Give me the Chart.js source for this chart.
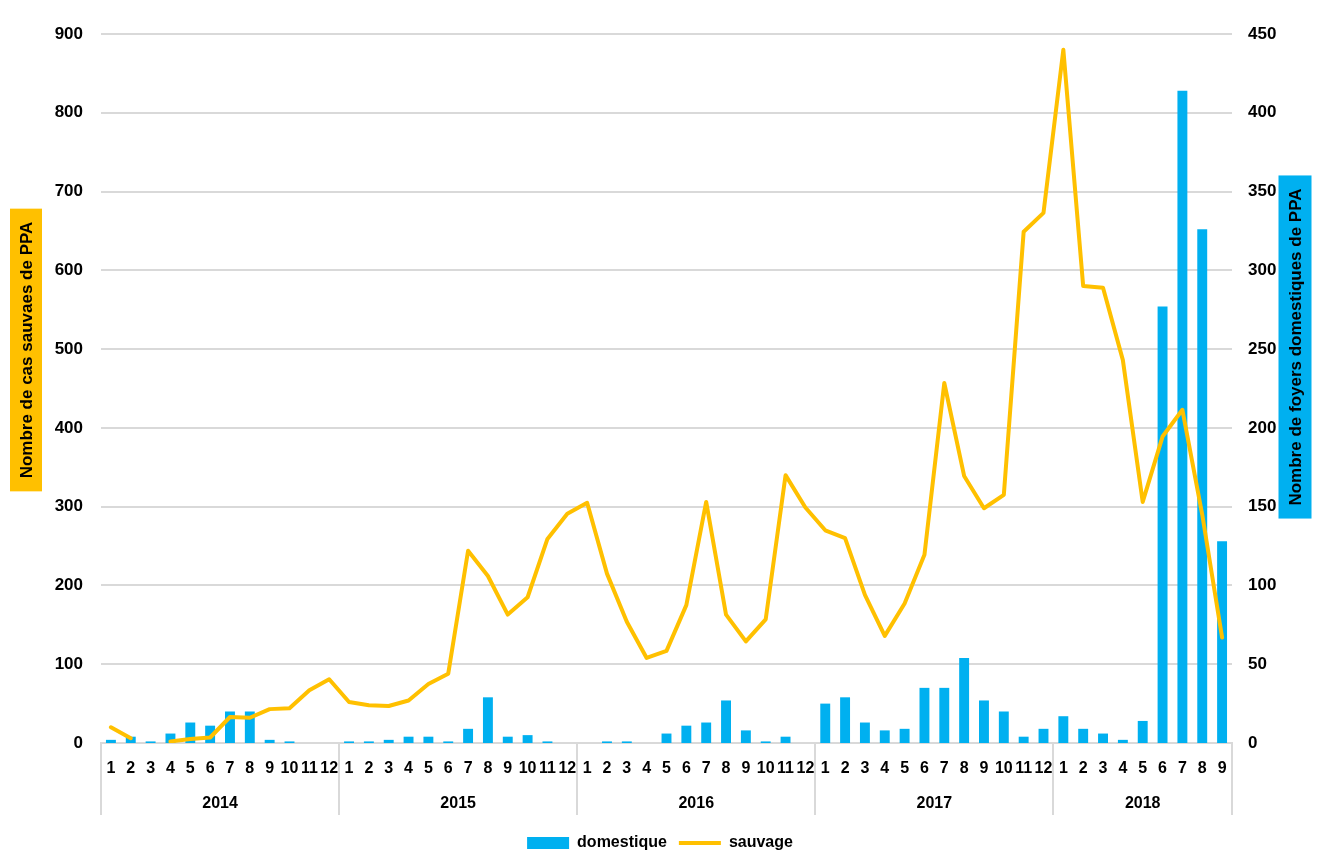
<!DOCTYPE html>
<html>
<head>
<meta charset="utf-8">
<script src="https://cdn.jsdelivr.net/npm/chart.js@4/dist/chart.umd.min.js"></script>
<style>
  html, body { margin: 0; padding: 0; background: #fff; }
  #wrap { width: 1320px; height: 865px; }
</style>
</head>
<body>
<div id="wrap"><canvas id="ppa"></canvas></div>
<script>
// months of each year, then year labels for the second row
const monthLabels = [
  '1','2','3','4','5','6','7','8','9','10','11','12',
  '1','2','3','4','5','6','7','8','9','10','11','12',
  '1','2','3','4','5','6','7','8','9','10','11','12',
  '1','2','3','4','5','6','7','8','9','10','11','12',
  '1','2','3','4','5','6','7','8','9'
];
const years = ['2014', '2015', '2016', '2017', '2018'];
const yearLengths = [12, 12, 12, 12, 9];

// domestic outbreaks (right axis)
const domestique = [
  2, 4, 1, 6, 13, 11, 20, 20, 2, 1, 0, 0,
  1, 1, 2, 4, 4, 1, 9, 29, 4, 5, 1, 0,
  0, 1, 1, 0, 6, 11, 13, 27, 8, 1, 4, 0,
  25, 29, 13, 8, 9, 35, 35, 54, 27, 20, 4, 9,
  17, 9, 6, 2, 14, 277, 414, 326, 128
];
// wild boar cases (left axis) - no value for march 2014
const sauvage = [
  20, 6, null, 2, 5, 7, 33, 32, 43, 44, 67, 81,
  52, 48, 47, 54, 75, 88, 244, 212, 163, 185, 259, 291,
  305, 215, 154, 108, 117, 175, 306, 163, 129, 157, 340, 299,
  270, 260, 188, 136, 177, 239, 457, 339, 298, 315, 649, 673,
  880, 580, 578, 486, 306, 389, 423, 290, 134
];
const leftTicks = [0, 900, 100];   // min, max, step
const rightTicks = [0, 450, 50];

const BLUE = '#00B0F0';
const GOLD = '#FFC000';
const GRID = '#D9D9D9';
const labelFont = 'Liberation Sans';
const tickFont = { family: labelFont, size: 17, weight: 'bold' };

// second row of the category axis (years) + separators
const yearAxis = {
  id: 'yearAxis',
  afterDraw(chart) {
    const { ctx, chartArea, scales } = chart;
    const x = scales.x;
    const top = chartArea.bottom, bottom = chartArea.bottom + 72;
    const edges = [chartArea.left];
    let n = 0;
    yearLengths.forEach(len => {
      n += len;
      if (n >= monthLabels.length) edges.push(chartArea.right);
      else edges.push((x.getPixelForValue(n - 1) + x.getPixelForValue(n)) / 2);
    });
    ctx.save();
    ctx.strokeStyle = GRID;
    ctx.lineWidth = 2;
    edges.forEach(px => {
      ctx.beginPath();
      ctx.moveTo(Math.round(px), top);
      ctx.lineTo(Math.round(px), bottom);
      ctx.stroke();
    });
    ctx.fillStyle = '#000';
    ctx.font = 'bold 16px ' + labelFont;
    ctx.textAlign = 'center';
    ctx.textBaseline = 'middle';
    years.forEach((y, i) => {
      ctx.fillText(y, (edges[i] + edges[i + 1]) / 2, chartArea.bottom + 61);
    });
    ctx.restore();
  }
};

// axis titles with coloured boxes
function boxTitle(ctx, text, cx, cy, boxW, bg) {
  ctx.save();
  ctx.font = 'bold 17px ' + labelFont;
  const w = ctx.measureText(text).width + 26;
  ctx.translate(cx, cy);
  ctx.rotate(-Math.PI / 2);
  ctx.fillStyle = bg;
  ctx.fillRect(-w / 2, -boxW / 2, w, boxW);
  ctx.fillStyle = '#000';
  ctx.textAlign = 'center';
  ctx.textBaseline = 'middle';
  ctx.fillText(text, 0, 1);
  ctx.restore();
}
const axisTitles = {
  id: 'axisTitles',
  afterDraw(chart) {
    const { ctx, chartArea } = chart;
    boxTitle(ctx, 'Nombre de cas sauvaes de PPA', chartArea.left - 75, chartArea.top + 316, 32, GOLD);
    boxTitle(ctx, 'Nombre de foyers domestiques de PPA', chartArea.right + 63, chartArea.top + 313, 33, BLUE);
  }
};

const ppaChart = new Chart(document.getElementById('ppa').getContext('2d'), {
  type: 'bar',
  data: {
    labels: monthLabels,
    datasets: [
      {
        type: 'bar',
        label: 'domestique',
        data: domestique,
        yAxisID: 'y1',
        backgroundColor: BLUE,
        borderWidth: 0,
        barPercentage: 0.5,
        categoryPercentage: 1,
        pointStyle: 'rect',
        order: 1
      },
      {
        type: 'line',
        label: 'sauvage',
        data: sauvage,
        yAxisID: 'y',
        borderColor: GOLD,
        backgroundColor: GOLD,
        borderWidth: 4,
        tension: 0,
        spanGaps: false,
        pointRadius: 0,
        pointStyle: 'line',
        borderJoinStyle: 'round',
        borderCapStyle: 'round',
        order: 0
      }
    ]
  },
  options: {
    responsive: true,
    maintainAspectRatio: false,
    animation: false,
    layout: { padding: { top: 34, bottom: 4 } },
    plugins: {
      tooltip: { enabled: false },
      legend: {
        position: 'bottom',
        labels: {
          usePointStyle: true,
          pointStyleWidth: 42,
          boxHeight: 12,
          padding: 12,
          color: '#000',
          font: { family: labelFont, size: 16, weight: 'bold' },
          sort: (a, b) => a.datasetIndex - b.datasetIndex
        }
      }
    },
    scales: {
      x: {
        grid: { display: false },
        border: { color: GRID, width: 2 },
        ticks: {
          autoSkip: false,
          maxRotation: 0,
          padding: 8,
          color: '#000',
          font: { family: labelFont, size: 16, weight: 'bold' }
        },
        afterFit: s => { s.height = 80; }
      },
      y: {
        position: 'left',
        min: leftTicks[0],
        max: leftTicks[1],
        ticks: { stepSize: leftTicks[2], padding: 18, color: '#000', font: tickFont },
        grid: { color: GRID, lineWidth: 2, drawTicks: false },
        border: { display: false },
        afterFit: s => { s.width = 101; }
      },
      y1: {
        position: 'right',
        min: rightTicks[0],
        max: rightTicks[1],
        ticks: { stepSize: rightTicks[2], padding: 16, color: '#000', font: tickFont },
        grid: { display: false, drawTicks: false },
        border: { display: false },
        afterFit: s => { s.width = 88; }
      }
    }
  },
  plugins: [yearAxis, axisTitles]
});
</script>
</body>
</html>
